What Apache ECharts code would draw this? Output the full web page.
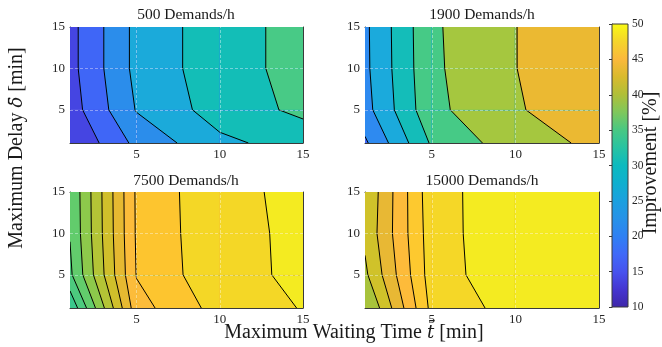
<!DOCTYPE html>
<html>
<head>
<meta charset="utf-8">
<script src="https://cdn.jsdelivr.net/npm/echarts@6/dist/echarts.min.js"></script>
<style>
  html, body { margin: 0; padding: 0; background: #fff; }
  #main { width: 662px; height: 347px; }
</style>
</head>
<body>
<div id="main"></div>
<script>
// sampled grid (min)
var waitTimes = [1, 5, 10, 15];
var delays = [1, 5, 10, 15];
var tickVals = [5, 10, 15];
var gridVals = [5, 10];

var titles = ['500 Demands/h', '1900 Demands/h', '7500 Demands/h', '15000 Demands/h'];

// improvement [%], rows: delay 1, 5, 10, 15 / cols: waiting time 1, 5, 10, 15
var imp500 = [
  [10.1, 21.3, 28.9, 32.1],
  [12.6, 25.3, 32.3, 36.1],
  [13.4, 26.4, 32.9, 36.7],
  [13.4, 26.4, 32.9, 36.7]
];
var imp1900 = [
  [19.2, 35.7, 42.8, 46.1],
  [23.2, 38.7, 44.6, 47.8],
  [23.9, 39.1, 44.95, 47.4],
  [24.0, 39.25, 44.95, 47.5]
];
var imp7500 = [
  [28.3, 43.2, 46.8, 48.1],
  [31.6, 44.1, 47.5, 48.3],
  [32.1, 44.25, 47.55, 48.3],
  [32.2, 44.3, 47.6, 48.35]
];
var imp15000 = [
  [35.6, 46.6, 48.8, 49.3],
  [37.6, 47.0, 49.45, 49.7],
  [38.45, 47.1, 49.5, 49.8],
  [38.2, 47.3, 49.2, 49.6]
];

// contour levels
var levels500 = [15, 20, 25, 30, 35];
var levels1900 = [20, 25, 30, 35, 40, 45];
var levels7500 = [30, 32, 34, 36, 38, 40, 42, 44, 46, 48];
var levels15000 = [38, 40, 42, 44, 46, 48];

// colorbar
var cbarMin = 10, cbarMax = 50;
var cbarVals = [10, 12.5, 15, 17.5, 20, 22.5, 25, 27.5, 30, 32.5, 35, 37.5, 40, 42.5, 45, 47.5, 50];

// styles (fill colours per band, from low to high)
var fills500 = ['#4545E2', '#3F66F7', '#2B8DEB', '#1BAADA', '#13BEB7', '#48CA86'];
var fills1900 = ['#3F66F7', '#2E8AF0', '#1BAADC', '#14BDB9', '#46CA86', '#A5C73F', '#EBB932'];
var fills7500 = ['#3AC88C', '#4CCA7E', '#62CC6C', '#8DC94B', '#B4C436', '#D0BF2B', '#E6B931', '#FCBC3A', '#FDC52F', '#F4D726', '#F4EB21'];
var fills15000 = ['#A8C33C', '#D0C22A', '#E8B834', '#FDBB3A', '#FDC92F', '#F5D727', '#F4EB21'];
var cbarColors = ['#3E26A8', '#4535D0', '#4752EE', '#4069F8', '#2F80F3', '#2792E8', '#1BA0DF', '#0FAFCF', '#0CBABF',
  '#28C3A2', '#48C883', '#7FC75C', '#B0BF38', '#D9BA2D', '#FBB93C', '#F5D52A', '#F9FA14'];

var grids = [
  { left: 70, top: 27, width: 233, height: 116 },
  { left: 365, top: 27, width: 234, height: 116 },
  { left: 70, top: 192, width: 233, height: 116 },
  { left: 365, top: 192, width: 234, height: 116 }
];
var font = '"Liberation Serif", "DejaVu Serif", serif';
var boxColor = '#3a3a3a';

function corners(z, i, j) {
  return [
    [waitTimes[i], delays[j], z[j][i]],
    [waitTimes[i + 1], delays[j], z[j][i + 1]],
    [waitTimes[i + 1], delays[j + 1], z[j + 1][i + 1]],
    [waitTimes[i], delays[j + 1], z[j + 1][i]]
  ];
}
function cross(a, b, L) {
  var t = (L - a[2]) / (b[2] - a[2]);
  return [a[0] + t * (b[0] - a[0]), a[1] + t * (b[1] - a[1])];
}
function aboveLevel(c, L) {
  var pts = [];
  for (var k = 0; k < 4; k++) {
    var a = c[k], b = c[(k + 1) % 4];
    if (a[2] >= L) pts.push([a[0], a[1]]);
    if ((a[2] - L) * (b[2] - L) < 0) pts.push(cross(a, b, L));
  }
  return pts;
}

function fillRender(z, lv, fills) {
  return function (params, api) {
    var c = corners(z, api.value(2), api.value(3));
    var kids = [];
    for (var b = 0; b <= lv.length; b++) {
      var pts = b === 0 ? c.map(function (p) { return [p[0], p[1]]; }) : aboveLevel(c, lv[b - 1]);
      if (pts.length < 3) continue;
      kids.push({
        type: 'polygon',
        shape: { points: pts.map(function (p) { return api.coord(p); }) },
        style: { fill: fills[b], stroke: fills[b], lineWidth: 0.6 }
      });
    }
    return { type: 'group', children: kids };
  };
}

function lineRender(z, lv) {
  return function (params, api) {
    var c = corners(z, api.value(2), api.value(3));
    var kids = [];
    lv.forEach(function (L) {
      var pts = [];
      for (var k = 0; k < 4; k++) {
        var a = c[k], b = c[(k + 1) % 4];
        if ((a[2] - L) * (b[2] - L) < 0) pts.push(api.coord(cross(a, b, L)));
      }
      for (var m = 0; m + 1 < pts.length; m += 2) {
        kids.push({
          type: 'line',
          shape: { x1: pts[m][0], y1: pts[m][1], x2: pts[m + 1][0], y2: pts[m + 1][1] },
          style: { stroke: '#000', lineWidth: 1 }
        });
      }
    });
    return { type: 'group', children: kids };
  };
}

var cells = [];
for (var j = 0; j < delays.length - 1; j++) {
  for (var i = 0; i < waitTimes.length - 1; i++) cells.push([waitTimes[i], delays[j], i, j]);
}

function axis(pos, gi, labels) {
  return {
    type: 'value', gridIndex: gi, position: pos, min: 1, max: 15,
    axisLine: { show: true, onZero: false, lineStyle: { color: boxColor, width: 1 } },
    axisTick: { show: true, inside: true, length: 3, customValues: tickVals, lineStyle: { color: boxColor } },
    axisLabel: {
      show: labels, customValues: tickVals, margin: 5,
      fontFamily: font, fontSize: 13, color: '#262626'
    },
    splitLine: { show: false }
  };
}

var xAxes = [], yAxes = [], series = [];
var data = [imp500, imp1900, imp7500, imp15000];
var lvls = [levels500, levels1900, levels7500, levels15000];
var fls = [fills500, fills1900, fills7500, fills15000];
for (var p = 0; p < 4; p++) {
  xAxes.push(axis('bottom', p, true), axis('top', p, false));
  yAxes.push(axis('left', p, true), axis('right', p, false));
  series.push({
    type: 'custom', xAxisIndex: 2 * p, yAxisIndex: 2 * p, data: cells,
    encode: { x: 0, y: 1 }, silent: true, clip: true, z: 2,
    renderItem: fillRender(data[p], lvls[p], fls[p])
  });
  series.push({
    type: 'custom', xAxisIndex: 2 * p, yAxisIndex: 2 * p, data: cells,
    encode: { x: 0, y: 1 }, silent: true, clip: true, z: 3,
    renderItem: lineRender(data[p], lvls[p]),
    markLine: {
      silent: true, symbol: 'none', animation: false,
      label: { show: false },
      lineStyle: { color: 'rgba(255,255,255,0.5)', width: 0.8, type: [3, 2] },
      data: gridVals.map(function (v) { return { xAxis: v }; })
        .concat(gridVals.map(function (v) { return { yAxis: v }; }))
    }
  });
}

// colorbar
grids.push({ left: 612, top: 24, width: 16, height: 283 });
xAxes.push({ type: 'value', gridIndex: 4, min: 0, max: 1, show: false });
yAxes.push({
  type: 'value', gridIndex: 4, position: 'right', min: cbarMin, max: cbarMax, interval: 5,
  axisLine: { show: true, lineStyle: { color: boxColor, width: 1 } },
  axisTick: { show: true, inside: true, length: 3, lineStyle: { color: boxColor } },
  axisLabel: { margin: 4, fontFamily: font, fontSize: 11.5, color: '#262626' },
  splitLine: { show: false }
});
series.push({
  type: 'custom', xAxisIndex: 8, yAxisIndex: 8, silent: true,
  data: [[0, cbarMin, 1, cbarMax]],
  encode: { x: [0, 2], y: [1, 3] },
  renderItem: function (params, api) {
    var p0 = api.coord([api.value(0), api.value(1)]);
    var p1 = api.coord([api.value(2), api.value(3)]);
    var stops = cbarVals.map(function (v, k) {
      return { offset: (v - cbarMin) / (cbarMax - cbarMin), color: cbarColors[k] };
    });
    return {
      type: 'rect',
      shape: { x: p0[0], y: p1[1], width: p1[0] - p0[0], height: p0[1] - p1[1] },
      style: {
        fill: { type: 'linear', x: 0, y: 1, x2: 0, y2: 0, colorStops: stops },
        stroke: boxColor, lineWidth: 1
      }
    };
  }
});

function label(x, y, text, size, rot, rich) {
  return {
    type: 'text', x: x, y: y, rotation: rot || 0, silent: true,
    style: {
      text: text, fontFamily: font, fontSize: size, fill: '#1a1a1a',
      align: 'center', verticalAlign: 'middle', textAlign: 'center', textVerticalAlign: 'middle',
      rich: rich || {}
    }
  };
}
var italic = { i: { fontStyle: 'italic', fontFamily: '"DejaVu Serif"', fontSize: 18, fill: '#1a1a1a' } };
var graphics = [
  label(186, 15, titles[0], 15.5),
  label(482, 15, titles[1], 15.5),
  label(186, 181, titles[2], 15.5),
  label(482, 181, titles[3], 15.5),
  label(17, 148, 'Maximum Delay {i|\u03B4\u0304} [min]', 20, Math.PI / 2, italic),
  label(354, 333, 'Maximum Waiting Time {i|t\u0304} [min]', 20, 0, italic),
  label(651, 163, 'Improvement [%]', 20, Math.PI / 2)
];

var chart = echarts.init(document.getElementById('main'), null, { renderer: 'canvas' });
chart.setOption({
  animation: false,
  backgroundColor: '#fff',
  grid: grids,
  xAxis: xAxes,
  yAxis: yAxes,
  series: series,
  graphic: graphics
});
</script>
</body>
</html>
